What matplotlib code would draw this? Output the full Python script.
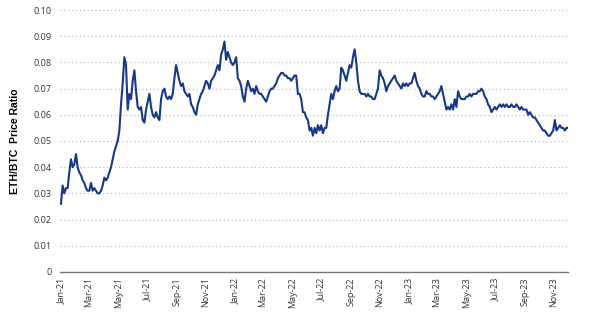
import numpy as np
import pandas as pd
import matplotlib
matplotlib.use("Agg")
import matplotlib.pyplot as plt
import matplotlib.dates as mdates

# twice-weekly ETH/BTC ratio
start_date = "2021-01-01"
eth_btc = [
    0.026, 0.033, 0.030, 0.032, 0.032, 0.038, 0.043, 0.040, 0.041, 0.045,
    0.040, 0.038, 0.037, 0.035, 0.034, 0.032, 0.031, 0.031, 0.034, 0.031,
    0.032, 0.031, 0.030, 0.030, 0.031, 0.033, 0.036, 0.035, 0.036, 0.038,
    0.040, 0.043, 0.046, 0.048, 0.050, 0.054, 0.064, 0.072, 0.082, 0.079,
    0.062, 0.068, 0.066, 0.073, 0.077, 0.069, 0.063, 0.062, 0.063, 0.058,
    0.057, 0.062, 0.065, 0.068, 0.063, 0.060, 0.059, 0.061, 0.059, 0.058,
    0.066, 0.069, 0.070, 0.067, 0.066, 0.067, 0.066, 0.068, 0.074, 0.079,
    0.076, 0.073, 0.071, 0.072, 0.069, 0.068, 0.067, 0.068, 0.064, 0.063,
    0.061, 0.060, 0.064, 0.066, 0.068, 0.069, 0.071, 0.073, 0.072, 0.070,
    0.073, 0.074, 0.075, 0.077, 0.079, 0.077, 0.083, 0.085, 0.088, 0.081,
    0.084, 0.082, 0.080, 0.079, 0.080, 0.082, 0.074, 0.073, 0.071, 0.067,
    0.065, 0.070, 0.073, 0.071, 0.069, 0.070, 0.068, 0.071, 0.069, 0.068,
    0.068, 0.067, 0.066, 0.065, 0.067, 0.069, 0.070, 0.070, 0.071, 0.072,
    0.074, 0.075, 0.076, 0.076, 0.075, 0.075, 0.074, 0.074, 0.073, 0.074,
    0.075, 0.075, 0.068, 0.068, 0.066, 0.061, 0.061, 0.059, 0.058, 0.054,
    0.055, 0.052, 0.055, 0.053, 0.056, 0.054, 0.056, 0.053, 0.055, 0.055,
    0.060, 0.064, 0.068, 0.066, 0.069, 0.071, 0.069, 0.070, 0.078, 0.077,
    0.075, 0.073, 0.076, 0.079, 0.078, 0.082, 0.085, 0.080, 0.073, 0.069,
    0.068, 0.068, 0.068, 0.067, 0.068, 0.067, 0.067, 0.066, 0.066, 0.068,
    0.070, 0.077, 0.075, 0.074, 0.072, 0.069, 0.071, 0.072, 0.073, 0.074,
    0.075, 0.073, 0.072, 0.071, 0.070, 0.072, 0.071, 0.072, 0.071, 0.072,
    0.072, 0.074, 0.076, 0.073, 0.071, 0.070, 0.068, 0.067, 0.067, 0.069,
    0.068, 0.068, 0.067, 0.067, 0.066, 0.067, 0.068, 0.069, 0.071, 0.068,
    0.065, 0.062, 0.063, 0.062, 0.064, 0.062, 0.066, 0.063, 0.069, 0.067,
    0.066, 0.066, 0.066, 0.067, 0.067, 0.068, 0.067, 0.068, 0.068, 0.068,
    0.069, 0.069, 0.070, 0.069, 0.067, 0.066, 0.064, 0.063, 0.061, 0.062,
    0.063, 0.062, 0.063, 0.064, 0.063, 0.064, 0.063, 0.064, 0.063, 0.063,
    0.064, 0.063, 0.063, 0.064, 0.063, 0.062, 0.063, 0.062, 0.062, 0.062,
    0.060, 0.061, 0.060, 0.059, 0.059, 0.058, 0.057, 0.056, 0.055, 0.054,
    0.054, 0.053, 0.052, 0.052, 0.053, 0.054, 0.058, 0.054, 0.055, 0.056,
    0.055, 0.055, 0.054, 0.055, 0.055,
]
dates = pd.date_range(start_date, periods=len(eth_btc), freq="84h")

y_ticks = [0, 0.01, 0.02, 0.03, 0.04, 0.05, 0.06, 0.07, 0.08, 0.09, 0.10]
y_tick_labels = ["0", "0.01", "0.02", "0.03", "0.04", "0.05",
                 "0.06", "0.07", "0.08", "0.09", "0.10"]

plt.rcParams["font.family"] = ["Open Sans", "DejaVu Sans"]

fig = plt.figure(figsize=(6.0, 3.26), dpi=100)
ax = fig.add_axes([0.1, 0.166, 0.847, 0.803])

ax.plot(dates, eth_btc, color="#16388a", lw=1.5, solid_joinstyle="round")

ax.set_ylim(0, 0.10)
ax.set_xlim(pd.Timestamp("2020-12-30"), pd.Timestamp("2023-12-01"))
ax.set_yticks(y_ticks)
ax.set_yticklabels(y_tick_labels)

ax.xaxis.set_major_locator(mdates.MonthLocator(bymonth=[1, 3, 5, 7, 9, 11]))
ax.xaxis.set_major_formatter(mdates.DateFormatter("%b-%y"))
plt.setp(ax.get_xticklabels(), rotation=90, ha="center", va="top")

ax.tick_params(axis="both", length=0, labelsize=6.5, colors="#333333")
ax.tick_params(axis="y", pad=6)
ax.tick_params(axis="x", pad=4)

# dotted horizontal gridlines
for v in y_ticks[1:]:
    ax.axhline(v, color="#b5b5b5", lw=0.8, ls=(0, (1, 2.5)), zorder=0)

for side in ["left", "right", "top"]:
    ax.spines[side].set_visible(False)
ax.spines["bottom"].set_color("#777777")
ax.spines["bottom"].set_linewidth(1.0)

ax.set_ylabel("ETH/BTC  Price Ratio", fontsize=7.5, fontweight="bold",
              family=["Liberation Sans", "DejaVu Sans"], labelpad=10)

fig.savefig("out.png", dpi=100)
